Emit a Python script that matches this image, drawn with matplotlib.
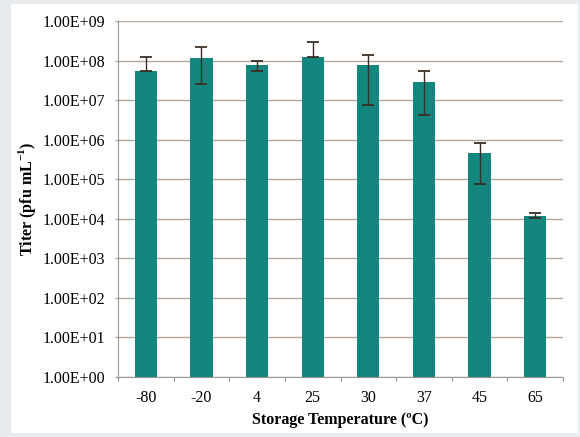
import matplotlib
matplotlib.use("Agg")
import matplotlib.pyplot as plt
import numpy as np
from matplotlib.patches import Rectangle

categories = ["-80", "-20", "4", "25", "30", "37", "45", "65"]
titer = [5.6e7, 1.17e8, 7.9e7, 1.24e8, 7.5e7, 2.8e7, 4.6e5, 1.2e4]
err_high = [1.24e8, 2.16e8, 1.0e8, 3.0e8, 1.4e8, 5.3e7, 8.3e5, 1.4e4]
err_low = [5.4e7, 2.6e7, 5.4e7, 1.22e8, 7.7e6, 4.1e6, 7.5e4, 1.05e4]
ytick_vals = [1e0, 1e1, 1e2, 1e3, 1e4, 1e5, 1e6, 1e7, 1e8, 1e9]
ytick_labels = ["1.00E+00", "1.00E+01", "1.00E+02", "1.00E+03", "1.00E+04",
                "1.00E+05", "1.00E+06", "1.00E+07", "1.00E+08", "1.00E+09"]

plt.rcParams['font.family'] = ['Liberation Serif', 'DejaVu Serif']
plt.rcParams['mathtext.fontset'] = 'custom'
plt.rcParams['mathtext.rm'] = 'Liberation Serif'
plt.rcParams['mathtext.bf'] = 'Liberation Serif:bold'

fig = plt.figure(figsize=(5.8, 4.37), dpi=100)
fig.patch.set_facecolor('#e8ecef')
bg = fig.add_axes([0, 0, 1, 1], zorder=-10)
bg.set_axis_off()
bg.set_xlim(0, 1); bg.set_ylim(0, 1)
bg.add_patch(Rectangle((11/580, 4/437), 567/580, 429/437,
                       facecolor='white', edgecolor='none'))

ax = fig.add_axes([118/580, 60/437, 445/580, 356/437])
ax.set_facecolor('white')
x = np.arange(len(categories))
t = np.array(titer)
lo = t - np.array(err_low)
hi = np.array(err_high) - t
ax.bar(x, titer, width=0.4, color='#13877e', zorder=2)
ax.errorbar(x, titer, yerr=[lo, hi], fmt='none', ecolor='#3b2e26',
            elinewidth=1.0, capsize=4, capthick=1.3, zorder=3)

ax.set_yscale('log')
ax.set_ylim(1, 1e9)
ax.set_xlim(-0.5, len(categories) - 0.5)
ax.set_yticks(ytick_vals)
ax.set_yticklabels(ytick_labels)
ax.yaxis.set_minor_locator(matplotlib.ticker.NullLocator())
ax.set_xticks(x)
ax.set_xticklabels(categories)
ax.set_xticks(np.arange(-0.5, len(categories) + 0.5, 1), minor=True)
ax.tick_params(axis='x', which='major', length=0, pad=9, labelsize=11.5)
ax.tick_params(axis='x', which='minor', length=3, color='#8c8c8c', width=0.8)
ax.tick_params(axis='y', which='major', length=2.5, color='#b5a69c', width=1.0,
               pad=7, labelsize=11.5)

ax.grid(axis='y', color='#b5a69c', linewidth=1.0, zorder=1)
for s in ['top', 'right']:
    ax.spines[s].set_visible(False)
ax.spines['left'].set_color('#9a9a9a')
ax.spines['bottom'].set_color('#9a9a9a')
ax.set_axisbelow(True)

ax.set_xlabel("Storage Temperature (\u00baC)", fontsize=11.5, fontweight='bold', labelpad=5)
ax.set_ylabel("Titer (pfu mL$^{\\mathbf{-1}}$)", fontsize=11.5, fontweight='bold', labelpad=3)

fig.savefig("out.png", dpi=100, facecolor=fig.get_facecolor())
